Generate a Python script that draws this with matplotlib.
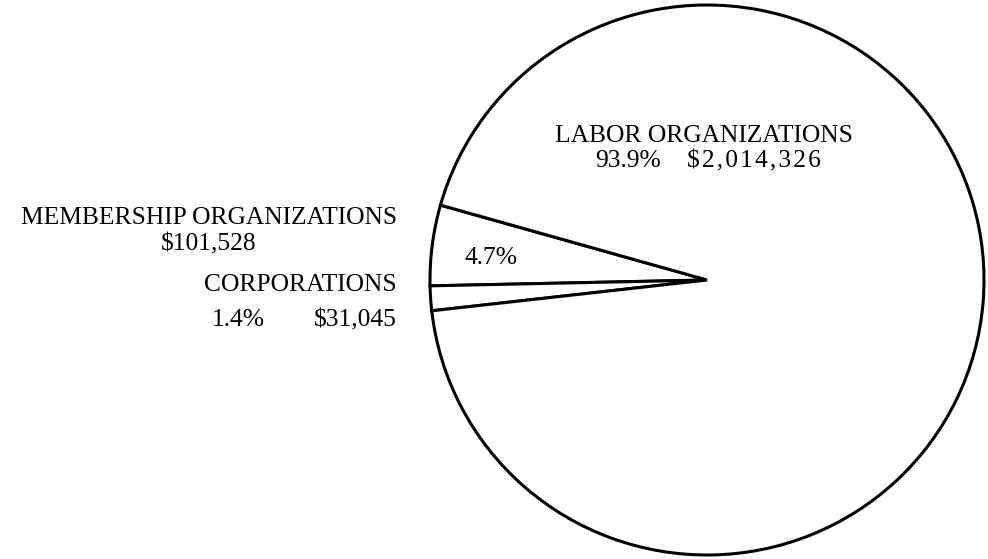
import matplotlib
matplotlib.use("Agg")
import matplotlib.pyplot as plt

categories = ["MEMBERSHIP ORGANIZATIONS", "CORPORATIONS", "LABOR ORGANIZATIONS"]
amounts = [101528, 31045, 2014326]
amount_labels = ["$101,528", "$31,045", "$2,014,326"]
pct_labels = ["4.7%", "1.4%", "93.9%"]

W, H = 988, 559
fig = plt.figure(figsize=(W / 100, H / 100), dpi=100)
fig.patch.set_facecolor("white")

# pie bounding box in pixels
cx, cy, rx, ry = 707, 280, 277, 275
ax = fig.add_axes([(cx - rx) / W, (H - cy - ry) / H, 2 * rx / W, 2 * ry / H])
ax.pie(amounts, startangle=164.2, counterclock=True,
       colors=["white"] * 3,
       wedgeprops=dict(edgecolor="black", linewidth=2.2, joinstyle="miter"))
ax.set_aspect("auto")
ax.set_xlim(-1, 1)
ax.set_ylim(-1, 1)
ax.axis("off")
for p in ax.patches:
    p.set_clip_on(False)

font = dict(family=["Liberation Serif", "DejaVu Serif"], fontsize=18.4, color="black")

def T(x, y, s, ha="center", **kw):
    d = dict(font)
    d.update(kw)
    fig.text(x / W, 1 - y / H, s, ha=ha, va="center", **d)

# membership
T(209, 218, categories[0])
T(209, 244, amount_labels[0])
T(491, 258, pct_labels[0])
# corporations
T(397, 285, categories[1], ha="right")
T(238, 320, pct_labels[1])
T(397, 320, amount_labels[1], ha="right")
# labor
T(555, 136, categories[2], ha="left")
T(595, 161, pct_labels[2], ha="left")
T(687, 161, "\u200a".join(amount_labels[2]), ha="left")

fig.savefig("out.png", dpi=100, facecolor="white")
